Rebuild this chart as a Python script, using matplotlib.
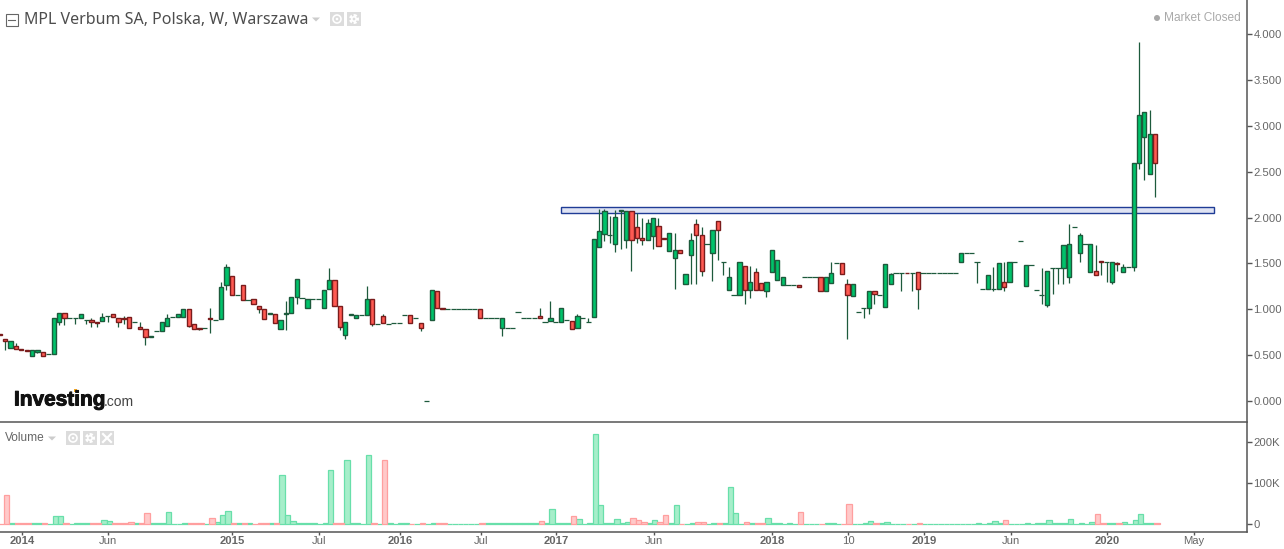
import matplotlib
matplotlib.use('Agg')
import matplotlib.pyplot as plt
import matplotlib.patheffects as pe
from matplotlib.patches import Rectangle, Polygon, Circle
import numpy as np

# weekly candles
opens = [.73,.68,.58,.60,.57,.56,.49,.53,.53,.51,
    .51,.86,.96,.91,.91,.90,.88,.88,.86,.87,
    .93,.95,.90,.91,.92,.86,.81,.78,.70,.76,
    .76,.82,.92,.92,.92,1.00,.84,.80,.80,.91,
    .88,.89,1.26,1.36,1.16,1.26,1.10,1.11,1.04,1.00,
    .95,.95,.78,.95,.96,1.13,1.12,1.01,1.11,1.11,
    1.01,1.22,1.32,1.04,.72,.94,.91,.94,.94,1.11,
    .84,.93,.84,.85,.85,.94,.94,.90,.85,0,
    .88,1.20,1.01,1,1,1,1,1,1,1.00,
    .91,.91,.91,.80,.80,.80,.97,.91,.91,.91,
    .93,.86,.87,.86,.86,.88,.87,.80,.90,.86,
    .92,1.68,1.82,1.81,1.71,2.07,1.76,2.07,1.90,1.78,
    1.76,1.80,1.91,1.78,1.63,1.56,1.65,1.28,1.59,1.93,
    1.81,1.71,1.61,1.96,1.51,1.21,1.16,1.16,1.47,1.21,
    1.41,1.29,1.20,1.41,1.32,1.26,1.26,1.26,1.26,1.35,
    1.35,1.35,1.35,1.20,1.29,1.50,1.50,1.28,1.14,.97,
    1.01,1.01,1.20,1.15,1.02,1.28,1.40,1.40,1.40,1.39,
    1.41,1.40,1.40,1.40,1.40,1.40,1.40,1.40,1.51,1.61,
    1.61,1.51,1.22,1.22,1.22,1.22,1.30,1.30,1.51,1.74,
    1.25,1.48,1.21,1.16,1.05,1.45,1.45,1.45,1.35,1.90,
    1.61,1.71,1.41,1.42,1.53,1.51,1.30,1.50,1.41,1.46,
    1.46,2.59,2.88,2.47,2.91]
highs = [.73,.68,.65,.63,.57,.56,.56,.56,.53,.51,
    .90,.96,.96,.91,.91,.95,.88,.91,.86,.96,
    .93,.95,.90,.93,.92,.86,.86,.78,.71,.76,
    .86,.95,.92,.95,1.00,1.00,.84,.80,.80,1.01,
    .88,1.30,1.49,1.36,1.16,1.26,1.10,1.11,1.04,1.00,
    .96,.95,.88,1.09,1.13,1.33,1.12,1.11,1.11,1.11,
    1.21,1.45,1.32,1.04,.86,.95,.94,.94,1.25,1.11,
    .84,.95,.84,.85,.85,.94,.94,.90,.85,0,
    1.21,1.20,1.01,1,1,1,1,1,1,1.00,
    .91,.91,.91,.91,.80,.80,.97,.91,.91,.91,
    1.01,.86,1.09,.86,1.01,.88,.87,.95,.90,.90,
    1.77,2.09,2.09,2.02,2.08,2.08,2.07,2.07,2.05,2.00,
    1.98,1.99,1.99,1.78,1.83,1.83,1.65,1.38,1.83,1.98,
    1.90,1.71,1.86,1.96,1.51,1.46,1.16,1.51,1.47,1.47,
    1.45,1.29,1.30,1.65,1.54,1.35,1.26,1.26,1.26,1.35,
    1.35,1.35,1.35,1.35,1.51,1.50,1.50,1.33,1.28,.97,
    1.01,1.20,1.20,1.15,1.49,1.40,1.40,1.40,1.40,1.39,
    1.41,1.40,1.40,1.40,1.40,1.40,1.40,1.40,1.61,1.61,
    1.61,1.51,1.22,1.37,1.46,1.50,1.51,1.51,1.51,1.74,
    1.48,1.48,1.21,1.45,1.42,1.45,1.45,1.70,1.93,1.90,
    1.83,1.71,1.71,1.70,1.53,1.51,1.51,1.51,1.49,1.46,
    2.59,3.91,3.15,3.17,2.91]
lows = [.72,.56,.58,.57,.56,.54,.49,.52,.49,.51,
    .51,.83,.83,.91,.84,.90,.84,.81,.81,.87,
    .86,.92,.81,.84,.80,.86,.78,.61,.70,.76,
    .76,.82,.92,.92,.92,.81,.79,.77,.80,.74,
    .88,.89,1.21,1.16,1.16,1.10,1.10,1.06,.96,.89,
    .95,.85,.78,.77,.96,1.06,1.12,1.01,1.11,1.11,
    1.01,1.22,1.04,.77,.68,.94,.91,.94,.94,.82,
    .84,.85,.84,.85,.85,.94,.85,.90,.76,0,
    .88,1.01,1.00,1,1,1,1,1,1,.91,
    .91,.91,.91,.71,.80,.80,.97,.91,.91,.91,
    .91,.86,.87,.86,.86,.88,.78,.80,.90,.86,
    .92,1.68,1.74,1.72,1.62,1.66,1.67,1.42,1.72,1.70,
    1.76,1.66,1.69,1.77,1.63,1.22,1.61,1.28,1.27,1.27,
    1.36,1.71,1.31,1.54,1.37,1.21,1.16,1.16,1.06,1.12,
    1.21,1.21,1.13,1.41,1.32,1.26,1.26,1.26,1.24,1.35,
    1.35,1.35,1.20,1.20,1.29,1.50,1.38,.68,1.14,.97,
    .91,.95,1.06,1.15,1.02,1.28,1.40,1.20,1.39,1.20,
    1.00,1.40,1.40,1.40,1.40,1.40,1.40,1.40,1.51,1.61,
    1.61,1.29,1.22,1.22,1.20,1.22,1.20,1.30,1.51,1.74,
    1.25,1.48,1.21,1.06,1.02,1.17,1.27,1.27,1.29,1.90,
    1.52,1.71,1.41,1.37,1.37,1.30,1.28,1.42,1.41,1.46,
    1.42,2.53,2.41,2.47,2.22]
closes = [.72,.65,.65,.57,.56,.54,.56,.56,.49,.51,
    .90,.96,.91,.91,.91,.95,.88,.86,.85,.92,
    .93,.92,.86,.89,.80,.86,.78,.70,.71,.76,
    .86,.90,.92,.95,1.00,.82,.79,.79,.80,.89,
    .88,1.24,1.46,1.16,1.16,1.10,1.10,1.06,1.00,.89,
    .96,.85,.88,.96,1.13,1.33,1.12,1.11,1.11,1.11,
    1.21,1.32,1.04,.81,.86,.95,.94,.94,1.11,.84,
    .84,.85,.84,.85,.85,.94,.85,.90,.80,0,
    1.21,1.01,1.00,1,1,1,1,1,1,.91,
    .91,.91,.91,.91,.80,.80,.97,.91,.91,.91,
    .91,.86,.91,.86,1.01,.88,.78,.93,.90,.86,
    1.77,1.85,2.07,1.81,2.01,2.08,2.07,1.76,1.78,1.76,
    1.94,1.99,1.69,1.77,1.83,1.65,1.61,1.38,1.76,1.81,
    1.42,1.71,1.86,1.86,1.51,1.35,1.16,1.51,1.21,1.30,
    1.21,1.21,1.30,1.65,1.54,1.35,1.26,1.26,1.24,1.35,
    1.35,1.35,1.20,1.35,1.39,1.50,1.38,1.16,1.28,.97,
    1.01,1.20,1.17,1.15,1.49,1.38,1.40,1.40,1.39,1.39,
    1.22,1.40,1.40,1.40,1.40,1.40,1.40,1.40,1.61,1.61,
    1.61,1.51,1.22,1.37,1.22,1.50,1.24,1.51,1.51,1.74,
    1.48,1.48,1.21,1.16,1.42,1.45,1.45,1.70,1.71,1.90,
    1.81,1.71,1.71,1.37,1.51,1.51,1.51,1.49,1.46,1.46,
    2.59,3.12,3.15,2.91,2.59]

# volume in thousands
volumes = [.5,72,2,4,4,2,4,4,2,.5,
    19,19,2,.5,2,2,2,4,4,11,
    9,2,2,2,6,2,4,28,4,2,
    4,31,.5,.5,2,2,2,2,.5,16,
    6,23,33,2,2,2,2,.5,2,2,
    2,2,120,23,9,4,2,2,2,.5,
    4,133,2,4,155,2,4,.5,167,2,
    .5,155,2,.5,2,2,.5,.5,4,.5,
    4,2,2,.5,.5,.5,.5,.5,.5,2,
    2,2,2,2,2,2,4,2,4,2,
    9,4,36,2,2,2,21,14,.5,4,
    218,48,4,4,14,4,6,16,11,6,
    2,11,6,23,2,48,.5,.5,4,6,
    6,.5,4,2,2,91,28,.5,6,2,
    4,4,16,4,2,.5,2,.5,31,.5,
    .5,.5,.5,4,4,.5,.5,50,.5,.5,
    4,9,2,2,6,.5,.5,.5,.5,.5,
    2,.5,.5,.5,.5,.5,.5,.5,.5,.5,
    .5,2,.5,2,9,4,11,.5,.5,.5,
    2,.5,2,4,11,4,2,2,14,.5,
    4,.5,6,26,2,2,4,4,6,.5,
    11,26,2,2,2]

price_ticks = [0, 0.5, 1, 1.5, 2, 2.5, 3, 3.5, 4]
price_labels = ['0.000', '0.500', '1.000', '1.500', '2.000', '2.500', '3.000', '3.500', '4.000']
vol_ticks = [0, 100, 200]
vol_labels = ['0', '100K', '200K']
date_ticks = [4.2, 20.1, 43.1, 59.2, 74.2, 89.1, 103, 121.2, 143, 157.1, 171.2, 187.2, 205.1, 221.2]
date_labels = ['2014', 'Jun', '2015', 'Jul', '2016', 'Jul', '2017', 'Jun', '2018', '10', '2019', 'Jun', '2020', 'May']
zone_left, zone_right, zone_low, zone_high = 103.9, 224.9, 2.045, 2.11

plt.rcParams['font.family'] = ['Liberation Sans', 'DejaVu Sans']
TXT = '#666666'
AXC = '#555555'
WICK = '#1d5a3c'
UP, UP_EDGE = '#00c26a', '#1d5a3c'
DN, DN_EDGE = '#ff5a52', '#7a1c1c'

W, H = 1284, 549
fig = plt.figure(figsize=(W/100, H/100), dpi=100, facecolor='white')
ax = fig.add_axes([0, 1-422/H, 1246.5/W, 422/H])
axv = fig.add_axes([0, (H-531.5)/H, 1246.5/W, 108.5/H])

x = np.arange(len(closes))
o = np.array(opens)
c = np.array(closes)
up = c >= o
flat = c == o
xlim = (0.056, 230.9)

# price panel
ax.add_patch(Rectangle((zone_left, zone_low), zone_right-zone_left, zone_high-zone_low,
                       fc='#dfe3f3', ec='#1f3c96', lw=1, zorder=1))
ax.vlines(x, lows, highs, color=WICK, lw=0.9, zorder=2)
ax.bar(x[~flat & up], (c-o)[~flat & up], bottom=o[~flat & up], width=0.76,
       color=UP, edgecolor=UP_EDGE, linewidth=1, zorder=3)
ax.bar(x[~flat & ~up], (o-c)[~flat & ~up], bottom=c[~flat & ~up], width=0.76,
       color=DN, edgecolor=DN_EDGE, linewidth=1, zorder=3)
ax.hlines(o[flat], x[flat]-0.48, x[flat]+0.48, color=WICK, lw=0.9, zorder=3)
ax.set_xlim(xlim)
ax.set_ylim(-21/91.75, 401/91.75)
ax.set_yticks(price_ticks)
ax.set_yticklabels(price_labels)
ax.set_xticks([])

# volume panel
axv.bar(x[up]+0.3, np.array(volumes)[up], width=1.0, color='#a6eeca', edgecolor='#68dfaa', linewidth=0.9)
axv.bar(x[~up]+0.3, np.array(volumes)[~up], width=1.0, color='#ffc9c9', edgecolor='#ff9f9f', linewidth=0.9)
axv.set_xlim(xlim)
axv.set_ylim(-7.2/0.412, 101.3/0.412)
axv.set_yticks(vol_ticks)
axv.set_yticklabels(vol_labels)
axv.set_xticks(date_ticks)
axv.set_xticklabels(date_labels)
for lab in axv.get_xticklabels():
    if lab.get_text().isdigit() and len(lab.get_text()) == 4:
        lab.set_fontweight('bold')
        lab.set_color('#4a4a4a')

for a in (ax, axv):
    a.yaxis.tick_right()
    a.tick_params(axis='y', length=3.5, width=1, color=AXC, labelcolor=TXT, labelsize=8.1, pad=1.5)
    a.tick_params(axis='x', length=2.5, width=1, color=AXC, labelcolor=TXT, labelsize=8.1, pad=0.5)
    a.spines['left'].set_visible(False)
    a.spines['top'].set_visible(False)
    a.spines['right'].set_color(AXC)
    a.spines['bottom'].set_color(AXC)
    a.spines['right'].set_linewidth(1.1)
    a.spines['bottom'].set_linewidth(1.1)
    a.patch.set_alpha(0)

# chart furniture, in pixels
ov = fig.add_axes([0, 0, 1, 1], zorder=10)
ov.set_xlim(0, W)
ov.set_ylim(H, 0)
ov.axis('off')

def icon_box(px, py, glyph):
    ov.add_patch(Rectangle((px, py), 14, 14, fc='#dcdcdc', ec='none'))
    mx, my = px+7, py+7
    if glyph == 'eye':
        ov.add_patch(Circle((mx, my), 4, fc='none', ec='white', lw=1.2))
        ov.add_patch(Circle((mx, my), 1.3, fc='white', ec='none'))
    elif glyph == 'gear':
        ov.add_patch(Circle((mx, my), 3.6, fc='none', ec='white', lw=2, ls=(0, (1, 0.6))))
        ov.add_patch(Circle((mx, my), 2.2, fc='none', ec='white', lw=1.2))
    else:
        ov.plot([mx-4, mx+4], [my-4, my+4], color='white', lw=1.6)
        ov.plot([mx-4, mx+4], [my+4, my-4], color='white', lw=1.6)

ov.add_patch(Rectangle((5.5, 13.5), 12, 12, fc='white', ec='#666666', lw=0.8))
ov.plot([8, 15], [19.5, 19.5], color='#666666', lw=0.8)
ov.text(24, 19.5, 'MPL Verbum SA, Polska, W, Warszawa', family=['Noto Sans', 'DejaVu Sans'],
        fontsize=11.5, color='#4d4d4d', va='center', ha='left')
ov.add_patch(Polygon([[312, 17.5], [320, 17.5], [316, 21.5]], fc='#cccccc', ec='none'))
icon_box(330, 12, 'eye')
icon_box(347, 12, 'gear')

ov.add_patch(Circle((1157, 18), 3, fc='#a8a8a8', ec='none'))
ov.text(1164, 18, 'Market Closed', fontsize=8.6, color='#aaaaaa', va='center', ha='left')

ov.text(5, 438, 'Volume', fontsize=8.6, color='#666666', va='center', ha='left')
ov.add_patch(Polygon([[48, 436.5], [56, 436.5], [52, 440.5]], fc='#cccccc', ec='none'))
icon_box(66, 431, 'eye')
icon_box(83, 431, 'gear')
icon_box(100, 431, 'x')

logo = ov.text(14, 400, 'Investing', fontsize=15, fontweight='bold', color='#111111', va='center', ha='left')
logo.set_path_effects([pe.withStroke(linewidth=0.7, foreground='#111111')])
ov.add_patch(Rectangle((74, 389), 3, 3, fc='#f5a623', ec='none'))
ov.text(104, 402, '.com', fontsize=10, color='#444444', va='center', ha='left')

fig.savefig('out.png', dpi=100)
